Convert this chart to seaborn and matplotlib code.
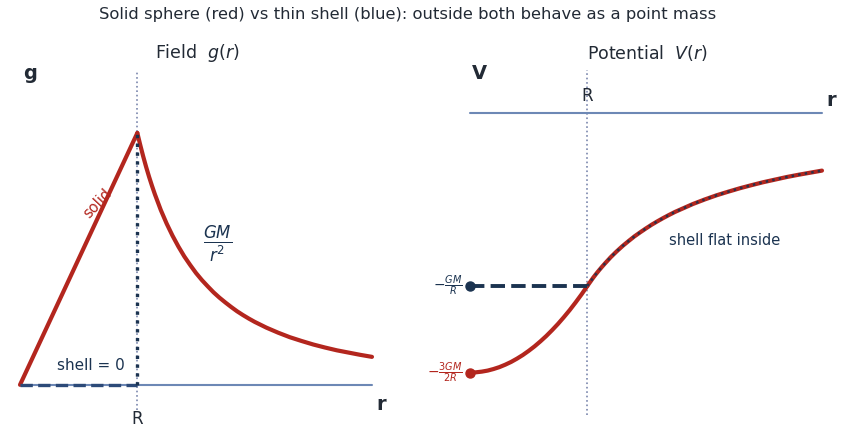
import matplotlib
matplotlib.use('Agg')
import matplotlib.pyplot as plt
import seaborn as sns

# values (R = 1, GM = 1)
r_field_inside = [0.0, 0.5, 1.0]
g_solid_inside = [0.0, 0.5, 1.0]

r_inside = [0.0, 0.05, 0.1, 0.15, 0.2, 0.25, 0.3, 0.35, 0.4, 0.45, 0.5,
            0.55, 0.6, 0.65, 0.7, 0.75, 0.8, 0.85, 0.9, 0.95, 1.0]
v_solid_inside = [-1.5, -1.499, -1.495, -1.489, -1.48, -1.469, -1.455, -1.439, -1.42,
                  -1.399, -1.375, -1.349, -1.32, -1.289, -1.255, -1.219, -1.18, -1.139,
                  -1.095, -1.049, -1.0]

r_outside = [1.0, 1.025, 1.05, 1.075, 1.1, 1.125, 1.15, 1.2, 1.25, 1.3, 1.35, 1.4, 1.45,
             1.5, 1.55, 1.6, 1.65, 1.7, 1.75, 1.8, 1.85, 1.9, 1.95, 2.0, 2.1, 2.2, 2.3,
             2.4, 2.5, 2.6, 2.7, 2.8, 2.9, 3.0]
g_outside = [1.0, 0.952, 0.907, 0.865, 0.826, 0.790, 0.756, 0.694, 0.640, 0.592, 0.549,
             0.510, 0.476, 0.444, 0.416, 0.391, 0.367, 0.346, 0.327, 0.309, 0.292, 0.277,
             0.263, 0.250, 0.227, 0.207, 0.189, 0.174, 0.160, 0.148, 0.137, 0.128, 0.119,
             0.111]
v_outside = [-1.0, -0.976, -0.952, -0.930, -0.909, -0.889, -0.870, -0.833, -0.800, -0.769,
             -0.741, -0.714, -0.690, -0.667, -0.645, -0.625, -0.606, -0.588, -0.571, -0.556,
             -0.541, -0.526, -0.513, -0.500, -0.476, -0.455, -0.435, -0.417, -0.400, -0.385,
             -0.370, -0.357, -0.345, -0.333]

r_shell_inside = [0.0, 1.0]
g_shell_inside = [0.0, 0.0]
v_shell_inside = [-1.0, -1.0]
r_shell_jump = [1.0, 1.0]
g_shell_jump = [0.0, 1.0]

r_axis = [0.0, 3.0]
zero_line = [0.0, 0.0]

RED = '#b3261e'
NAVY = '#1b3350'
AXBLUE = '#6d88b5'
GUIDE = '#7a86ad'
DARK = '#222a35'

sns.set_theme(style='white')
plt.rcParams['font.family'] = ['DejaVu Sans']
plt.rcParams['mathtext.fontset'] = 'dejavusans'

W, H = 845, 437
fig = plt.figure(figsize=(W / 100, H / 100), dpi=100)


def add_ax(x0, x1, y_top, y_bot):
    return fig.add_axes([x0 / W, 1 - y_bot / H, (x1 - x0) / W, (y_bot - y_top) / H])


def line(ax, x, y, **kw):
    sns.lineplot(x=x, y=y, ax=ax, sort=False, estimator=None, **kw)


# ---- left: field ----
ax1 = add_ax(15, 380, 70, 410)
ax1.set_xlim(-5 / 117, 3 + 8 / 117)
ax1.set_ylim(-0.1, 1.25)
ax1.axvline(1.0, color=GUIDE, lw=1.2, ls=':', zorder=1)
line(ax1, r_axis, zero_line, color=AXBLUE, lw=1.5, zorder=2)
line(ax1, r_field_inside, g_solid_inside, color=RED, lw=3, zorder=3)
line(ax1, r_outside, g_outside, color=RED, lw=3, zorder=3)
line(ax1, r_shell_inside, g_shell_inside, color='#2c4a78', lw=2.4, ls='--', zorder=4)
line(ax1, r_shell_jump, g_shell_jump, color=NAVY, lw=2.4, ls=':', zorder=4)

ax1.text(0.5, 1.05, 'Field  $g(r)$', transform=ax1.transAxes, ha='center', va='center',
         fontsize=12.5, color=DARK)
ax1.text(0.04, 0.99, 'g', transform=ax1.transAxes, ha='center', va='center',
         fontsize=14, fontweight='bold', color=DARK)
ax1.text(3.04, -0.08, 'r', ha='left', va='center', fontsize=14, fontweight='bold', color=DARK)
ax1.text(1.0, -0.135, 'R', ha='center', va='center', fontsize=12, color=DARK)
ax1.text(0.66, 0.72, 'solid', ha='center', va='center', rotation=47, fontsize=10.5, color=RED)
ax1.text(1.68, 0.56, r'$\frac{GM}{r^2}$', ha='center', va='center', fontsize=17, color=NAVY)
ax1.text(0.6, 0.078, 'shell = 0', ha='center', va='center', fontsize=11, color=NAVY)

# ---- right: potential ----
ax2 = add_ax(465, 830, 70, 415)
ax2.set_xlim(-5 / 117, 3 + 8 / 117)
ax2.set_ylim(-(415 - 113) / 173, (113 - 70) / 173)
ax2.axvline(1.0, color=GUIDE, lw=1.2, ls=':', zorder=1)
line(ax2, r_axis, zero_line, color=AXBLUE, lw=1.5, zorder=2)
line(ax2, r_inside, v_solid_inside, color=RED, lw=3, zorder=3)
line(ax2, r_outside, v_outside, color=RED, lw=3, zorder=3)
line(ax2, r_shell_inside, v_shell_inside, color=NAVY, lw=2.8, ls='--', zorder=4)
line(ax2, r_outside, v_outside, color=NAVY, lw=1.8, ls=':', alpha=0.9, zorder=4)
ax2.plot([r_inside[0]], [v_shell_inside[0]], 'o', color=NAVY, ms=6.5, zorder=5)
ax2.plot([r_inside[0]], [v_solid_inside[0]], 'o', color=RED, ms=6.5, zorder=5)

ax2.text(0.5, 1.05, 'Potential  $V(r)$', transform=ax2.transAxes, ha='center', va='center',
         fontsize=12.5, color=DARK)
ax2.text(0.04, 0.99, 'V', transform=ax2.transAxes, ha='center', va='center',
         fontsize=14, fontweight='bold', color=DARK)
ax2.text(3.04, 0.07, 'r', ha='left', va='center', fontsize=14, fontweight='bold', color=DARK)
ax2.text(1.0, 0.1, 'R', ha='center', va='center', fontsize=12, color=DARK)
ax2.text(-0.06, -1.0, r'$-\frac{GM}{R}$', ha='right', va='center', fontsize=10, color=NAVY)
ax2.text(-0.06, -1.5, r'$-\frac{3GM}{2R}$', ha='right', va='center', fontsize=10, color=RED)
ax2.text(2.17, -0.735, 'shell flat inside', ha='center', va='center', fontsize=10.5, color=NAVY)

for ax in (ax1, ax2):
    ax.set_xticks([])
    ax.set_yticks([])
    ax.set_xlabel('')
    ax.set_ylabel('')
    sns.despine(ax=ax, left=True, bottom=True)

fig.text(0.482, 1 - 15 / H, 'Solid sphere (red) vs thin shell (blue): outside both behave as a point mass',
         ha='center', va='center', fontsize=11.8, color=DARK)

fig.savefig('out.png', dpi=100)
